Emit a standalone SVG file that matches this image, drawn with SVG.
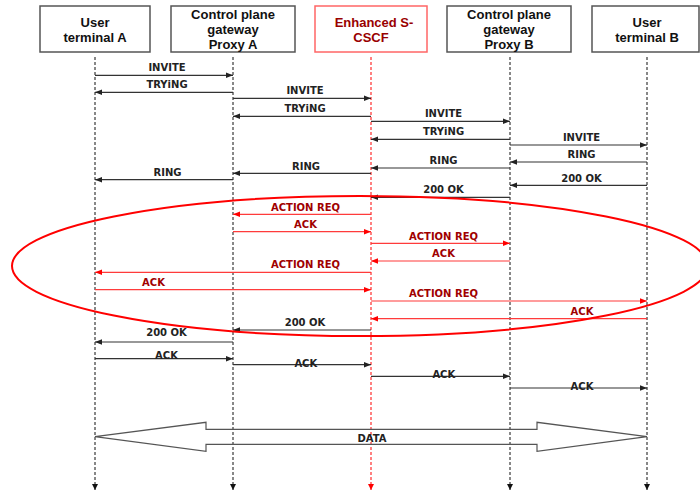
<svg xmlns="http://www.w3.org/2000/svg" width="700" height="490" viewBox="0 0 700 490">
<defs>
<style>
.box{fill:#fff;stroke:#555;stroke-width:1.5}
.boxr{fill:#fff;stroke:#f66;stroke-width:1.5}
.nt{font-family:"Liberation Sans",Arial,sans-serif;font-size:13px;font-weight:bold;fill:#111;text-anchor:middle}
.ntr{fill:#990000}
.life{stroke:#111;stroke-width:1;stroke-dasharray:3,2;fill:none}
.liferd{stroke:#f00;stroke-width:1;stroke-dasharray:3,2;fill:none}
.m{stroke:#333;stroke-width:1.2;fill:none;marker-end:url(#ah)}
.mr{stroke:#ff3b3b;stroke-width:1.2;fill:none;marker-end:url(#ahr)}
.lb{font-family:"DejaVu Sans",Verdana,sans-serif;font-size:10px;font-weight:bold;fill:#222;text-anchor:middle}
.lbr{fill:#a00000}
</style>
<marker id="ah" markerUnits="userSpaceOnUse" markerWidth="8" markerHeight="6" refX="7" refY="3" orient="auto"><path d="M0,0.3 L7,3 L0,5.7 z" fill="#222"/></marker>
<marker id="ahr" markerUnits="userSpaceOnUse" markerWidth="8" markerHeight="6" refX="7" refY="3" orient="auto"><path d="M0,0.3 L7,3 L0,5.7 z" fill="#f00"/></marker>
<marker id="dn" markerUnits="userSpaceOnUse" markerWidth="7" markerHeight="7" refX="6" refY="3" orient="auto"><path d="M0,0 L6,3 L0,6 z" fill="#111"/></marker>
<marker id="dnr" markerUnits="userSpaceOnUse" markerWidth="7" markerHeight="7" refX="6" refY="3" orient="auto"><path d="M0,0 L6,3 L0,6 z" fill="#f00"/></marker>
</defs>
<rect width="700" height="490" fill="#fff"/>

<g id="userA">
<rect class="box" x="40" y="6" width="110" height="46"/>
<text class="nt" x="95" y="26.5">User</text>
<text class="nt" x="95" y="41.5">terminal A</text>
<line class="life" x1="95" y1="57" x2="95" y2="490" marker-end="url(#dn)"/>
</g>
<g id="proxyA">
<rect class="box" x="171" y="6" width="124" height="46"/>
<text class="nt" x="233" y="18.5">Control plane</text>
<text class="nt" x="233" y="33.5">gateway</text>
<text class="nt" x="233" y="48.5">Proxy A</text>
<line class="life" x1="233" y1="57" x2="233" y2="490" marker-end="url(#dn)"/>
</g>
<g id="scscf">
<rect class="boxr" x="315" y="6" width="112" height="46"/>
<text class="nt ntr" x="374" y="26.5">Enhanced S-</text>
<text class="nt ntr" x="371" y="41.5">CSCF</text>
<line class="liferd" x1="371" y1="57" x2="371" y2="490" marker-end="url(#dnr)"/>
</g>
<g id="proxyB">
<rect class="box" x="447" y="6" width="124" height="46"/>
<text class="nt" x="509" y="18.5">Control plane</text>
<text class="nt" x="509" y="33.5">gateway</text>
<text class="nt" x="509" y="48.5">Proxy B</text>
<line class="life" x1="510" y1="57" x2="510" y2="490" marker-end="url(#dn)"/>
</g>
<g id="userB">
<rect class="box" x="592" y="6" width="107" height="46"/>
<text class="nt" x="647" y="26.5">User</text>
<text class="nt" x="647" y="41.5">terminal B</text>
<line class="life" x1="647" y1="57" x2="647" y2="490" marker-end="url(#dn)"/>
</g>

<g id="connectors">
<line class="m" x1="95" y1="75.3" x2="233" y2="75.3"/><text class="lb" x="167" y="71.3">INVITE</text>
<line class="m" x1="233" y1="92.3" x2="95" y2="92.3"/><text class="lb" x="167" y="88.3">TRYiNG</text>
<line class="m" x1="233" y1="98.3" x2="371" y2="98.3"/><text class="lb" x="305" y="94.3">INVITE</text>
<line class="m" x1="371" y1="116.3" x2="233" y2="116.3"/><text class="lb" x="305" y="112">TRYiNG</text>
<line class="m" x1="371" y1="121.3" x2="510" y2="121.3"/><text class="lb" x="443.5" y="117.3">INVITE</text>
<line class="m" x1="510" y1="139.3" x2="371" y2="139.3"/><text class="lb" x="443.5" y="135">TRYiNG</text>
<line class="m" x1="510" y1="145" x2="647" y2="145"/><text class="lb" x="581.5" y="141">INVITE</text>
<line class="m" x1="647" y1="162" x2="510" y2="162"/><text class="lb" x="581.5" y="158">RING</text>
<line class="m" x1="510" y1="168" x2="371" y2="168"/><text class="lb" x="443.5" y="164">RING</text>
<line class="m" x1="371" y1="173.3" x2="233" y2="173.3"/><text class="lb" x="306" y="169.5">RING</text>
<line class="m" x1="233" y1="179.7" x2="95" y2="179.7"/><text class="lb" x="167.5" y="175.5">RING</text>
<line class="m" x1="647" y1="185.3" x2="510" y2="185.3"/><text class="lb" x="581.5" y="181.5">200 OK</text>
<line class="m" x1="510" y1="197.3" x2="371" y2="197.3"/><text class="lb" x="443.5" y="193">200 OK</text>

<line class="mr" x1="371" y1="214.3" x2="233" y2="214.3"/><text class="lb lbr" x="305.5" y="210.5">ACTION REQ</text>
<line class="mr" x1="233" y1="231.7" x2="371" y2="231.7"/><text class="lb lbr" x="305.5" y="227.5">ACK</text>
<line class="mr" x1="371" y1="243.3" x2="510" y2="243.3"/><text class="lb lbr" x="443.5" y="239.5">ACTION REQ</text>
<line class="mr" x1="510" y1="261" x2="371" y2="261"/><text class="lb lbr" x="443.5" y="257">ACK</text>
<line class="mr" x1="371" y1="272.3" x2="95" y2="272.3"/><text class="lb lbr" x="305.5" y="268">ACTION REQ</text>
<line class="mr" x1="95" y1="289.7" x2="371" y2="289.7"/><text class="lb lbr" x="153.5" y="285.5">ACK</text>
<line class="mr" x1="371" y1="301" x2="647" y2="301"/><text class="lb lbr" x="443.5" y="297">ACTION REQ</text>
<line class="mr" x1="647" y1="318.7" x2="371" y2="318.7"/><text class="lb lbr" x="582" y="314.5">ACK</text>

<line class="m" x1="371" y1="330" x2="233" y2="330"/><text class="lb" x="305" y="325.5">200 OK</text>
<line class="m" x1="233" y1="342" x2="95" y2="342"/><text class="lb" x="166.5" y="335.5">200 OK</text>
<line class="m" x1="95" y1="358.7" x2="233" y2="358.7"/><text class="lb" x="166.5" y="358.6">ACK</text>
<line class="m" x1="233" y1="364.7" x2="371" y2="364.7"/><text class="lb" x="305.8" y="367">ACK</text>
<line class="m" x1="371" y1="376.3" x2="510" y2="376.3"/><text class="lb" x="443.8" y="378">ACK</text>
<line class="m" x1="510" y1="388" x2="647" y2="388"/><text class="lb" x="582" y="390">ACK</text>

<polygon points="95,436.7 206,422.3 206,429.3 537,429.3 537,422.3 647,436.7 537,451.3 537,444.3 206,444.3 206,451.3" fill="none" stroke="#555" stroke-width="1.2"/>
<text class="lb" x="372" y="441.5">DATA</text>

<ellipse cx="360" cy="266" rx="348" ry="70" fill="none" stroke="#f00" stroke-width="2"/>
</g>
</svg>
